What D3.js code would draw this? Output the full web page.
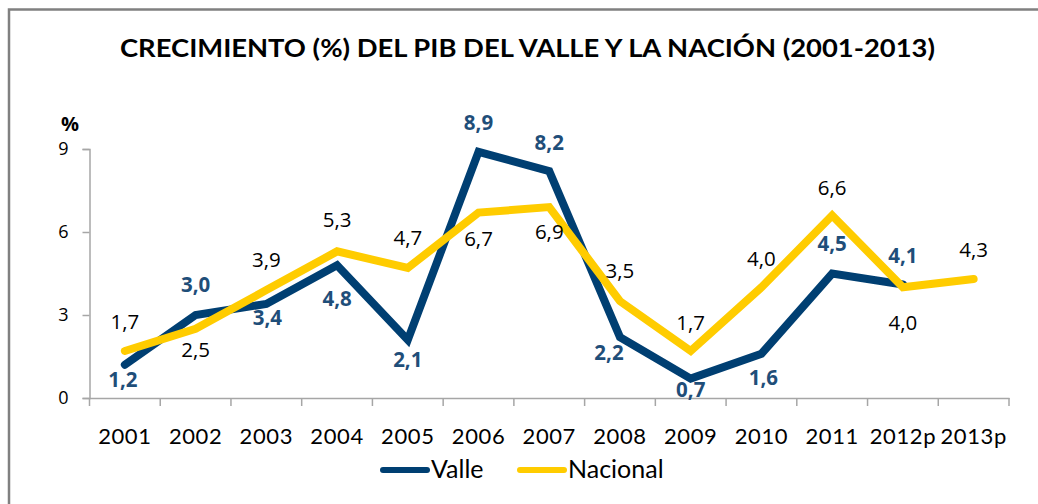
<!DOCTYPE html>
<html>
<head>
<meta charset="utf-8">
<script src="https://cdn.jsdelivr.net/npm/d3@7"></script>
<style>
  body { margin: 0; background: #fff; }
  svg { display: block; }
</style>
</head>
<body>
<div class="canvas"></div>
<script>
// data
const years = ['2001','2002','2003','2004','2005','2006','2007','2008','2009','2010','2011','2012p','2013p']
const valle = [1.2, 3.0, 3.4, 4.8, 2.1, 8.9, 8.2, 2.2, 0.7, 1.6, 4.5, 4.1, null]
const nacional = [1.7, 2.5, 3.9, 5.3, 4.7, 6.7, 6.9, 3.5, 1.7, 4.0, 6.6, 4.0, 4.3]
const yTicks = [0, 3, 6, 9]

// label offsets (px from point, label centre)
const valleDy = [15, -30, 14, 33, 20, -29, -29, 15, 11, 24, -30, -29, 0]
const valleDx = [-2, 0, 1, 0, 0, 0, 0, -11, 0, 2, 0, 0, 0]
const nacDy = [-29, 21, -30, -32, -30, 26, 25, -31, -28, -29, -28, 35, -29]

const W = 1038, H = 504
const svg = d3.select('.canvas').append('svg')
  .attr('width', W).attr('height', H)

// chart border
svg.append('path')
  .attr('d', `M9,${H} V9.5 H${W}`)
  .attr('fill', 'none').attr('stroke', '#808080').attr('stroke-width', 2.5)

svg.append('text')
  .attr('x', 120).attr('y', 57)
  .attr('textLength', 815).attr('lengthAdjust', 'spacingAndGlyphs')
  .attr('font-family', 'Lato').attr('font-weight', 'bold').attr('font-size', 25)
  .text('CRECIMIENTO (%) DEL PIB DEL VALLE Y LA NACIÓN (2001-2013)')

const x = d3.scaleBand().domain(years).range([89.5, 1009])
const y = d3.scaleLinear().domain([0, 9]).range([398, 149])
const cx = d => x(d) + x.bandwidth() / 2

const axisCol = '#a6a6a6'
// y axis
const yAxis = svg.append('g').attr('transform', 'translate(89.5,0)')
  .call(d3.axisLeft(y).tickValues(yTicks).tickSize(7).tickPadding(14))
yAxis.select('.domain').attr('stroke', axisCol).attr('stroke-width', 1.5)
yAxis.selectAll('.tick line').attr('stroke', axisCol).attr('stroke-width', 1.5)
yAxis.selectAll('.tick text').attr('font-family', 'Open Sans').attr('font-size', 18).attr('fill', '#000')

// x axis
const xAxis = svg.append('g').attr('transform', 'translate(0,398)')
  .call(d3.axisBottom(x).tickSize(0).tickPadding(30))
xAxis.select('.domain').attr('stroke', axisCol).attr('stroke-width', 1.5)
xAxis.selectAll('.tick text').attr('font-family', 'Lato').attr('font-size', 22)
  .attr('letter-spacing', 0.6).attr('fill', '#000')
// tick marks on band edges
xAxis.selectAll('.edge').data(years.concat(['end']))
  .enter().append('line')
  .attr('x1', (d, i) => i < years.length ? x(d) : x.range()[1])
  .attr('x2', (d, i) => i < years.length ? x(d) : x.range()[1])
  .attr('y1', 0).attr('y2', 8)
  .attr('stroke', axisCol).attr('stroke-width', 1.5)

svg.append('text').attr('x', 70).attr('y', 131)
  .attr('text-anchor', 'middle')
  .attr('font-family', 'Open Sans').attr('font-weight', 'bold').attr('font-size', 20)
  .text('%')

const blue = '#003f72', yellow = '#ffcc00'

const line = d3.line()
  .defined(d => d.v != null)
  .x(d => cx(d.k)).y(d => y(d.v))

const vData = years.map((k, i) => ({k, v: valle[i]}))
const nData = years.map((k, i) => ({k, v: nacional[i]}))

svg.append('path').datum(vData).attr('d', line)
  .attr('fill', 'none').attr('stroke', blue).attr('stroke-width', 8)
  .attr('stroke-linejoin', 'miter').attr('stroke-linecap', 'round')
svg.append('path').datum(nData).attr('d', line)
  .attr('fill', 'none').attr('stroke', yellow).attr('stroke-width', 8)
  .attr('stroke-linejoin', 'miter').attr('stroke-linecap', 'round')

const fmt = v => v.toFixed(1).replace('.', ',')

svg.append('g').selectAll('text').data(vData.filter(d => d.v != null))
  .enter().append('text')
  .attr('x', (d, i) => cx(d.k) + valleDx[i])
  .attr('y', (d, i) => y(d.v) + valleDy[i])
  .attr('dy', '0.36em').attr('text-anchor', 'middle')
  .attr('font-family', 'Open Sans').attr('font-weight', 'bold').attr('font-size', 20.5)
  .attr('fill', '#1f4e79')
  .text(d => fmt(d.v))

svg.append('g').selectAll('text').data(nData)
  .enter().append('text')
  .attr('x', d => cx(d.k))
  .attr('y', (d, i) => y(d.v) + nacDy[i])
  .attr('dy', '0.36em').attr('text-anchor', 'middle')
  .attr('font-family', 'Open Sans').attr('font-size', 20.5)
  .attr('fill', '#000')
  .text(d => fmt(d.v))

// legend
const legend = [{name: 'Valle', c: blue, x: 380}, {name: 'Nacional', c: yellow, x: 517}]
const lg = svg.append('g').selectAll('g').data(legend).enter().append('g')
lg.append('line')
  .attr('x1', d => d.x + 3).attr('x2', d => d.x + 47)
  .attr('y1', 470).attr('y2', 470)
  .attr('stroke', d => d.c).attr('stroke-width', 6).attr('stroke-linecap', 'round')
lg.append('text')
  .attr('x', d => d.x + 51).attr('y', 478)
  .attr('font-family', 'Lato').attr('font-size', 25)
  .text(d => d.name)
</script>
</body>
</html>
